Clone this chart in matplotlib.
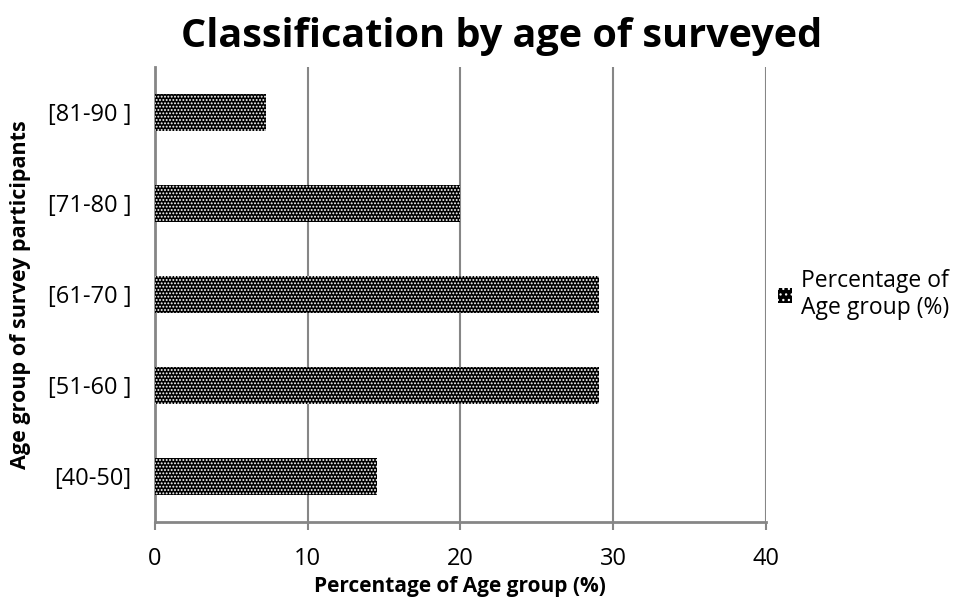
import matplotlib.pyplot as plt
from matplotlib.patches import Patch

plt.rcParams["font.family"] = ["Open Sans", "DejaVu Sans"]
plt.rcParams["hatch.linewidth"] = 0.9

age_groups = ["[40-50]", "[51-60 ]", "[61-70 ]", "[71-80 ]", "[81-90 ]"]
percentages = [14.55, 29.09, 29.09, 20.0, 7.27]
x_ticks = [0, 10, 20, 30, 40]
series_name = "Percentage of\nAge group (%)"

GRID = "#868686"
PATTERN = "....."

fig = plt.figure(figsize=(9.8, 6.09), dpi=100)
ax = fig.add_axes([0.158, 0.143, 0.6236, 0.747])

ax.barh(age_groups, percentages, height=0.4, color="black",
        edgecolor="white", hatch=PATTERN, linewidth=0, zorder=3)

ax.set_xlim(0, 40)
ax.set_ylim(-0.5, len(age_groups) - 0.5)
ax.set_xticks(x_ticks)
ax.xaxis.grid(True, color=GRID, linewidth=1.5, zorder=0)

for side in ["top", "right"]:
    ax.spines[side].set_visible(False)
for side in ["left", "bottom"]:
    ax.spines[side].set_color(GRID)
    ax.spines[side].set_linewidth(2)

ax.tick_params(axis="x", colors=GRID, length=6, width=1.5, labelsize=17,
               labelcolor="black", pad=12)
ax.tick_params(axis="y", length=0, labelsize=17, labelcolor="black", pad=17)

ax.set_xlabel("Percentage of Age group (%)", fontsize=15, fontweight="bold", labelpad=4)
ax.set_ylabel("Age group of survey participants", fontsize=15.5, fontweight="bold", labelpad=12)
fig.text(0.512, 0.94, "Classification by age of surveyed", fontsize=28.5,
         fontweight="bold", ha="center", va="center")

handle = Patch(facecolor="black", edgecolor="white", hatch="...", linewidth=0)
leg = ax.legend([handle], [series_name], loc="center left",
                bbox_to_anchor=(1.02, 0.5), frameon=False, fontsize=16.5,
                handlelength=0.6, handleheight=0.6, handletextpad=0.4,
                borderaxespad=0, borderpad=0)
for t in leg.get_texts():
    t.set_multialignment("center")

fig.savefig("out.png", dpi=100)
